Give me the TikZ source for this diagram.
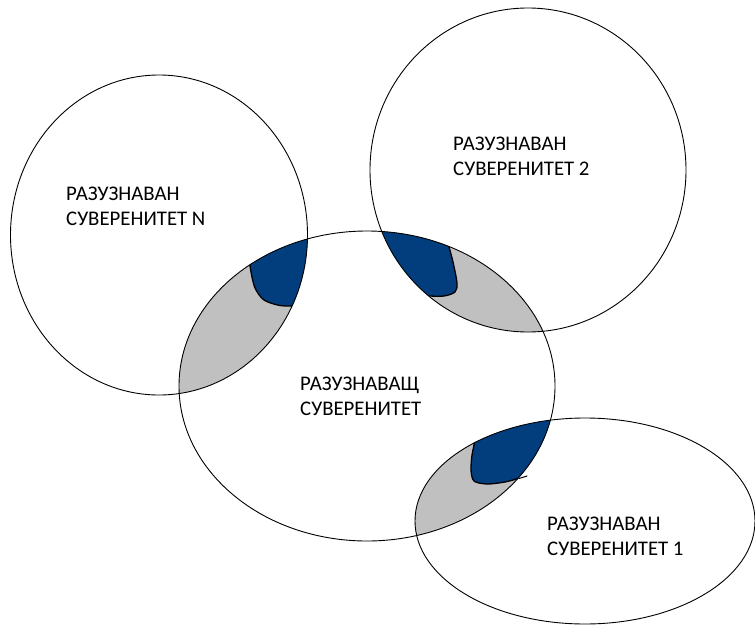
\documentclass[tikz,border=0pt]{standalone}
\usepackage{fontspec}
\setmainfont{Carlito}
\definecolor{navy}{HTML}{023E7D}
\definecolor{lensgray}{HTML}{C0C0C0}
\tikzset{
  outline/.style={draw=black, line width=0.9pt},
  handedge/.style={draw=black, line width=1.3pt, line cap=round, line join=round},
  label/.style={anchor=north west, inner sep=0pt, align=left, font=\fontsize{20.8}{25}\selectfont}
}
\def\ellN{(159,235) ellipse [x radius=148.5pt, y radius=160pt]}
\def\ellT{(528,170) ellipse [x radius=158pt, y radius=162pt]}
\def\ellC{(367,386) ellipse [x radius=188pt, y radius=155pt]}
\def\ellO{(585,521) ellipse [x radius=170pt, y radius=103pt]}
\begin{document}
\begin{tikzpicture}[x=1pt,y=-1pt]
\useasboundingbox[fill=white] (0,0) rectangle (755,624);
% gray lenses
\begin{scope}
  \clip \ellC;
  \fill[lensgray] \ellN;
  \fill[lensgray] \ellT;
  \fill[lensgray] \ellO;
\end{scope}
% blue patch N
\begin{scope}
  \clip \ellC; \clip \ellN;
  \fill[navy] (240,215) -- plot[smooth] coordinates {(249,258) (251,272) (255,288) (264,300) (280,305.5) (298,306)} -- (330,306) -- (330,215) -- cycle;
  \draw[handedge] plot[smooth] coordinates {(249,258) (251,272) (255,288) (264,300) (280,305.5) (298,306)};
\end{scope}
% blue patch 2
\begin{scope}
  \clip \ellC; \clip \ellT;
  \fill[navy] (440,215) -- plot[smooth] coordinates {(446,238) (449,247) (453,262) (457,283) (455,292) (444,296) (428,296) (418,296)} -- (415,310) -- (360,310) -- (360,215) -- cycle;
  \draw[handedge] plot[smooth] coordinates {(446,238) (449,247) (453,262) (457,283) (455,292) (444,296) (428,296) (418,296)};
\end{scope}
% blue patch 1
\begin{scope}
  \clip \ellC; \clip \ellO;
  \fill[navy] (475,400) -- plot[smooth] coordinates {(475,435) (474,445) (472,455) (471,470) (474,481) (487,484) (505,482) (520,478) (532,475)} -- (570,475) -- (570,400) -- cycle;
  \draw[handedge] plot[smooth] coordinates {(475,435) (474,445) (472,455) (471,470) (474,481) (487,484) (505,482) (520,478) (532,475)};
\end{scope}
\draw[handedge, line width=1pt] (519,478.5) -- (527,476);
% outlines
\draw[outline] \ellN;
\draw[outline] \ellT;
\draw[outline] \ellC;
\draw[outline] \ellO;
% labels
\node[label] (labN) at (66,186.5) {РАЗУЗНАВАН\\СУВЕРЕНИТЕТ N};
\node[label] (labT) at (453,136.5) {РАЗУЗНАВАН\\СУВЕРЕНИТЕТ 2};
\node[label] (labC) at (300,376.5) {РАЗУЗНАВАЩ\\СУВЕРЕНИТЕТ};
\node[label] (labO) at (547,516.5) {РАЗУЗНАВАН\\СУВЕРЕНИТЕТ 1};
\end{tikzpicture}
\end{document}
